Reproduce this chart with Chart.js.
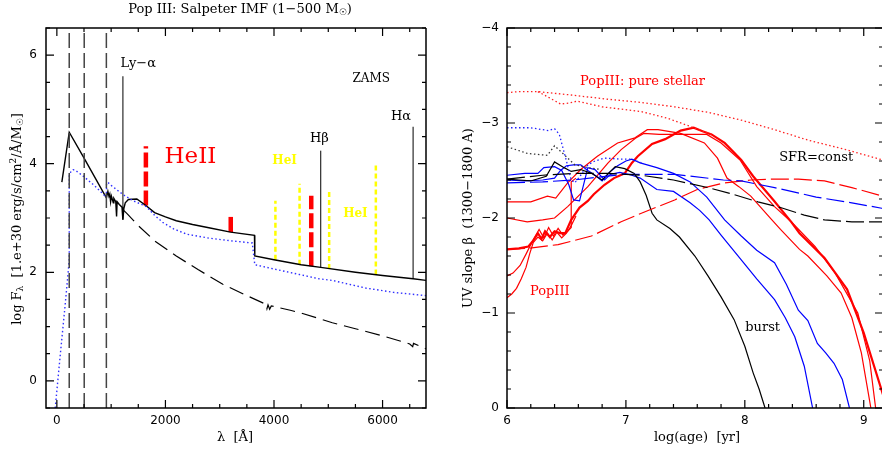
<!DOCTYPE html>
<html>
<head>
<meta charset="utf-8">
<script src="https://cdn.jsdelivr.net/npm/chart.js@4.4.1/dist/chart.umd.min.js"></script>
<style>
html, body { margin: 0; padding: 0; background: #fff; overflow: hidden; }
#wrap { position: relative; width: 882px; height: 451px; overflow: hidden; }
canvas { position: absolute; top: 0; }
</style>
</head>
<body>
<div id="wrap">
  <canvas id="chart-sed" width="441" height="451" style="left:0"></canvas>
  <canvas id="chart-beta" width="443" height="451" style="left:441px"></canvas>
</div>
<script>
// ---------- left panel: Pop III SED (ZAMS) ----------
const sedXTicks = [0, 2000, 4000, 6000];
const sedYTicks = [0, 2, 4, 6];

// total (stellar + nebular) spectrum
const zamsLambda = [92, 228, 504, 912, 940, 960, 975, 990, 1005, 1040, 1050, 1085, 1100, 1110, 1150, 1200, 1216, 1235, 1260, 1318, 1473, 1640, 1800, 2000, 2200, 2500, 2800, 3200, 3640, 3646, 4000, 4500, 4861, 5500, 6000, 6563, 6800];
const zamsFlux   = [3.66, 4.58, 4.10, 3.37, 3.49, 3.40, 3.44, 3.30, 3.40, 3.28, 3.36, 3.30, 3.03, 3.30, 3.25, 3.20, 2.97, 3.18, 3.28, 3.34, 3.35, 3.23, 3.10, 3.02, 2.95, 2.88, 2.82, 2.74, 2.68, 2.30, 2.23, 2.14, 2.09, 2.00, 1.94, 1.88, 1.85];

// pure stellar spectrum (blue dotted)
const stellarLambda = [-30, 60, 150, 213, 228, 228, 260, 300, 340, 500, 700, 912, 915, 935, 1000, 1222, 1400, 1650, 1800, 1950, 2150, 2400, 2800, 3200, 3600, 3646, 4000, 4466, 4830, 5075, 5688, 6200, 6800];
const stellarFlux   = [-0.5, 0.45, 1.37, 2.05, 2.25, 3.77, 3.86, 3.89, 3.88, 3.76, 3.59, 3.38, 3.62, 3.66, 3.60, 3.43, 3.32, 3.21, 3.05, 2.92, 2.80, 2.70, 2.63, 2.58, 2.54, 2.14, 2.06, 1.96, 1.88, 1.85, 1.71, 1.63, 1.57];

// older / comparison continuum (black long dashed)
const dashLambda = [1230, 1284, 1500, 1800, 2200, 2600, 3057, 3500, 3853, 3870, 3890, 3920, 3950, 4000, 4300, 4500, 5075, 5500, 6000, 6500, 6555, 6570, 6800];
const dashFlux   = [3.14, 3.09, 2.86, 2.58, 2.30, 2.05, 1.78, 1.57, 1.41, 1.33, 1.40, 1.32, 1.38, 1.37, 1.30, 1.25, 1.07, 0.96, 0.83, 0.68, 0.63, 0.69, 0.59];

// ionisation edges (HeII, HeI, HI)
const edgeLambda = [228, 504, 912];

// emission lines
const lineNames  = ['Lya', 'HeII1640', 'HeII3203', 'HeII4686', 'Hb', 'Ha', 'HeI4026', 'HeI4471', 'HeI5016', 'HeI5876'];
const lineLambda = [1216, 1640, 3203, 4686, 4861, 6563, 4026, 4471, 5016, 5876];
const lineBase   = [2.97, 3.23, 2.74, 2.11, 2.09, 1.88, 2.23, 2.14, 2.06, 1.96];
const lineTop    = [5.61, 4.32, 3.02, 3.41, 4.24, 4.68, 3.32, 3.63, 3.50, 4.01];
const lineKind   = ['H', 'HeII', 'HeII', 'HeII', 'Hb', 'H', 'HeI', 'HeI', 'HeI', 'HeI'];

// ---------- right panel: UV slope vs age ----------
const ageXTicks = [6, 7, 8, 9];
const betaYTicks = [-4, -3, -2, -1, 0];

const redDotConstAge  = [6.0, 6.1, 6.26, 6.5, 6.85, 7.1, 7.41, 7.7, 7.97, 8.25, 8.53, 8.85, 9.162];
const redDotConstBeta = [-3.32, -3.33, -3.33, -3.30, -3.25, -3.22, -3.17, -3.11, -3.03, -2.93, -2.82, -2.72, -2.61];
const redDotBurstAge  = [6.26, 6.35, 6.45, 6.52, 6.59, 6.8, 7.13, 7.35, 7.55, 7.72];
const redDotBurstBeta = [-3.33, -3.27, -3.20, -3.21, -3.23, -3.17, -3.12, -3.05, -2.96, -2.88];

const blueDotAge  = [6.0, 6.2, 6.35, 6.40, 6.44, 6.50, 6.54, 6.57, 6.62, 6.68, 6.74, 6.82, 6.95, 7.05, 7.13];
const blueDotBeta = [-2.95, -2.95, -2.92, -2.94, -2.88, -2.60, -2.40, -2.37, -2.45, -2.56, -2.60, -2.63, -2.62, -2.62, -2.58];

const blackDotAge  = [6.0, 6.17, 6.34, 6.40, 6.47, 6.57, 6.68, 6.79];
const blackDotBeta = [-2.75, -2.68, -2.66, -2.76, -2.68, -2.56, -2.53, -2.51];

const blackBurstAge  = [6.0, 6.1, 6.2, 6.33, 6.40, 6.48, 6.54, 6.62, 6.71, 6.80, 6.91, 6.99, 7.07, 7.12, 7.17, 7.22, 7.26, 7.37, 7.45, 7.58, 7.69, 7.80, 7.91, 8.0, 8.07, 8.12, 8.17];
const blackBurstBeta = [-2.41, -2.40, -2.39, -2.44, -2.59, -2.53, -2.49, -2.51, -2.47, -2.40, -2.54, -2.52, -2.47, -2.38, -2.24, -2.05, -1.98, -1.89, -1.80, -1.60, -1.39, -1.17, -0.93, -0.65, -0.37, -0.20, 0];

const blueBurstAAge  = [6.0, 6.15, 6.26, 6.31, 6.40, 6.46, 6.52, 6.56, 6.61, 6.68, 6.74, 6.82, 6.87, 6.95, 7.05, 7.12, 7.26, 7.40, 7.54, 7.62, 7.70, 7.80, 7.97, 8.10, 8.25, 8.34, 8.42, 8.50, 8.57];
const blueBurstABeta = [-2.45, -2.47, -2.47, -2.53, -2.54, -2.50, -2.35, -2.19, -2.18, -2.53, -2.51, -2.40, -2.46, -2.48, -2.45, -2.42, -2.30, -2.28, -2.16, -2.08, -1.98, -1.82, -1.56, -1.36, -1.14, -0.95, -0.75, -0.44, 0];
const blueBurstBAge  = [6.0, 6.15, 6.30, 6.40, 6.45, 6.50, 6.56, 6.62, 6.68, 6.74, 6.80, 6.86, 6.93, 7.00, 7.05, 7.12, 7.26, 7.40, 7.54, 7.68, 7.83, 7.97, 8.10, 8.25, 8.35, 8.45, 8.53, 8.61, 8.68, 8.75, 8.82, 8.88];
const blueBurstBBeta = [-2.40, -2.39, -2.40, -2.42, -2.50, -2.55, -2.56, -2.56, -2.50, -2.45, -2.39, -2.48, -2.55, -2.60, -2.62, -2.58, -2.53, -2.47, -2.38, -2.22, -1.98, -1.81, -1.66, -1.53, -1.30, -1.03, -0.92, -0.68, -0.58, -0.47, -0.30, 0];

const redBurstAAge  = [6.0, 6.2, 6.34, 6.41, 6.51, 6.62, 6.76, 6.93, 7.07, 7.18, 7.27, 7.46, 7.66, 7.77, 7.85, 7.95, 8.05, 8.22, 8.30, 8.46, 8.53, 8.69, 8.81, 8.90, 8.98, 9.06];
const redBurstABeta = [-2.17, -2.17, -2.23, -2.21, -2.37, -2.51, -2.65, -2.79, -2.84, -2.93, -2.93, -2.89, -2.79, -2.63, -2.42, -2.33, -2.23, -1.99, -1.88, -1.67, -1.60, -1.39, -1.21, -0.95, -0.58, 0];
const redBurstBAge  = [6.0, 6.17, 6.30, 6.40, 6.51, 6.68, 6.85, 6.96, 7.08, 7.15, 7.28, 7.41, 7.55, 7.68, 7.80, 7.96, 8.10, 8.25, 8.39, 8.59, 8.76, 8.95, 9.05, 9.10];
const redBurstBBeta = [-2.0, -1.96, -1.98, -2.0, -2.12, -2.33, -2.58, -2.72, -2.84, -2.89, -2.88, -2.88, -2.88, -2.88, -2.79, -2.61, -2.33, -2.12, -1.96, -1.70, -1.42, -1.0, -0.5, 0];
const redBurstCAge  = [6.0, 6.1, 6.18, 6.22, 6.26, 6.29, 6.32, 6.36, 6.40, 6.45, 6.49, 6.54, 6.61, 6.68, 6.73, 6.82, 6.90, 6.99, 7.05, 7.10, 7.22, 7.33, 7.46, 7.57, 7.65, 7.72, 7.83, 7.97, 8.07, 8.24, 8.39, 8.46, 8.67, 8.86, 9.0, 9.162];
const redBurstCBeta = [-1.67, -1.68, -1.70, -1.76, -1.84, -1.78, -1.86, -1.80, -1.86, -1.84, -1.84, -1.98, -2.11, -2.18, -2.25, -2.35, -2.42, -2.47, -2.58, -2.65, -2.78, -2.83, -2.92, -2.95, -2.91, -2.88, -2.79, -2.61, -2.44, -2.19, -1.96, -1.84, -1.58, -1.25, -0.79, -0.14];
const redBurstDAge  = [6.0, 6.05, 6.11, 6.16, 6.22, 6.27, 6.31, 6.35, 6.39, 6.43, 6.47, 6.51, 6.54, 6.54, 6.58];
const redBurstDBeta = [-1.39, -1.42, -1.50, -1.62, -1.77, -1.88, -1.79, -1.90, -1.81, -1.89, -1.82, -1.86, -1.90, -2.38, -2.42];
const redBurstEAge  = [6.0, 6.04, 6.08, 6.12, 6.16, 6.19, 6.22, 6.26, 6.30, 6.34, 6.38, 6.42, 6.46, 6.50, 6.54, 6.58];
const redBurstEBeta = [-1.16, -1.20, -1.26, -1.36, -1.48, -1.62, -1.74, -1.80, -1.76, -1.84, -1.77, -1.85, -1.79, -1.84, -1.92, -2.02];

const blackConstAge  = [6.0, 6.3, 6.57, 6.85, 7.13, 7.4, 7.69, 7.9, 8.11, 8.30, 8.5, 8.67, 8.9, 9.162];
const blackConstBeta = [-2.41, -2.45, -2.47, -2.47, -2.45, -2.40, -2.32, -2.25, -2.17, -2.11, -2.03, -1.98, -1.96, -1.96];
const blueConstAge   = [6.0, 6.3, 6.56, 6.98, 7.41, 7.82, 7.97, 8.25, 8.6, 8.9, 9.162];
const blueConstBeta  = [-2.37, -2.38, -2.40, -2.46, -2.46, -2.40, -2.39, -2.32, -2.22, -2.16, -2.10];
const redConstAge    = [6.0, 6.17, 6.43, 6.71, 6.96, 7.13, 7.41, 7.6, 7.83, 8.05, 8.25, 8.45, 8.67, 8.9, 9.162];
const redConstBeta   = [-1.67, -1.68, -1.72, -1.81, -1.96, -2.05, -2.19, -2.30, -2.37, -2.40, -2.41, -2.41, -2.39, -2.32, -2.23];

// ---------- helpers ----------
const SERIF = "'DejaVu Serif', serif";
const SANS = "'DejaVu Sans', sans-serif";

function series(xs, ys, color, width, dash) {
    return {
        data: xs.map((x, i) => ({ x: x, y: ys[i] })),
        borderColor: color,
        borderWidth: width,
        borderDash: dash || [],
        pointRadius: 0,
        fill: false,
        tension: 0
    };
}

function minusLabel(v) {
    return v < 0 ? '\u2212' + Math.abs(v) : String(v);
}

// draw text made of pieces with different size / vertical shift
function drawRich(ctx, parts, cx, cy, angle, family, size, color) {
    ctx.save();
    ctx.translate(cx, cy);
    ctx.rotate(angle);
    ctx.fillStyle = color;
    ctx.textBaseline = 'middle';
    ctx.textAlign = 'left';
    let total = 0;
    parts.forEach(p => {
        ctx.font = Math.round(size * (p[1] || 1)) + 'px ' + family;
        total += ctx.measureText(p[0]).width;
    });
    let x = -total / 2;
    parts.forEach(p => {
        ctx.font = Math.round(size * (p[1] || 1)) + 'px ' + family;
        ctx.fillText(p[0], x, p[2] || 0);
        x += ctx.measureText(p[0]).width;
    });
    ctx.restore();
}

// frame plus inward major/minor ticks on all four sides
const frameTicks = {
    id: 'frameTicks',
    afterDraw(chart, args, opts) {
        const { ctx, chartArea: a } = chart;
        const xs = chart.scales.x, ys = chart.scales.y;
        ctx.save();
        ctx.strokeStyle = '#000';
        ctx.lineWidth = 1.5;
        ctx.beginPath();
        ctx.moveTo(a.right, a.top); ctx.lineTo(a.left, a.top);
        ctx.lineTo(a.left, a.bottom); ctx.lineTo(a.right, a.bottom);
        if (opts.rightEdge !== false) ctx.lineTo(a.right, a.top);
        ctx.stroke();
        ctx.lineWidth = 1.2;
        ctx.beginPath();
        const xStep = opts.xMinor, yStep = opts.yMinor;
        for (let v = Math.ceil(xs.min / xStep - 1e-6) * xStep; v <= xs.max + 1e-6; v += xStep) {
            const major = Math.abs(v / opts.xMajor - Math.round(v / opts.xMajor)) < 1e-6;
            const len = major ? 8 : 4;
            const px = xs.getPixelForValue(v);
            ctx.moveTo(px, a.bottom); ctx.lineTo(px, a.bottom - len);
            ctx.moveTo(px, a.top); ctx.lineTo(px, a.top + len);
        }
        for (let v = Math.ceil(ys.min / yStep - 1e-6) * yStep; v <= ys.max + 1e-6; v += yStep) {
            const major = Math.abs(v / opts.yMajor - Math.round(v / opts.yMajor)) < 1e-6;
            const len = major ? 8 : 4;
            const py = ys.getPixelForValue(v);
            ctx.moveTo(a.left, py); ctx.lineTo(a.left + len, py);
            ctx.moveTo(a.right, py); ctx.lineTo(a.right - len, py);
        }
        ctx.stroke();
        ctx.restore();
    }
};

// free text labels placed in data coordinates, plus axis titles
const textLabels = {
    id: 'textLabels',
    afterDatasetsDraw(chart, args, opts) {
        const { ctx } = chart;
        const xs = chart.scales.x, ys = chart.scales.y;
        ctx.save();
        ctx.textAlign = 'center';
        ctx.textBaseline = 'middle';
        (opts.items || []).forEach(it => {
            ctx.font = it.font;
            ctx.fillStyle = it.color;
            ctx.fillText(it.text, xs.getPixelForValue(it.x), ys.getPixelForValue(it.y));
        });
        ctx.restore();
        (opts.rich || []).forEach(r => drawRich(ctx, r.parts, r.cx, r.cy, r.angle || 0, r.family, r.size, r.color || '#000'));
    }
};

document.addEventListener('DOMContentLoaded', () => {
    // ----- left panel datasets -----
    const sedSets = [];
    edgeLambda.forEach(l => {
        sedSets.push(series([l, l], [-0.5, 6.5], '#444', 1.5, [15, 5]));
    });
    sedSets.push(series(dashLambda, dashFlux, '#000', 1.2, [15, 7]));
    sedSets.push(series(stellarLambda, stellarFlux, '#3030ff', 1.4, [1.5, 2.5]));
    sedSets.push(series(zamsLambda, zamsFlux, '#000', 1.4));
    lineNames.forEach((n, i) => {
        const k = lineKind[i];
        let color = '#555', width = 1.5, dash = [];
        if (k === 'HeII') { color = '#ff0000'; width = 4.5; dash = (lineTop[i] - lineBase[i] > 0.6) ? [15, 4] : []; }
        if (k === 'HeI') { color = '#ffff00'; width = 2.5; dash = [5, 3]; }
        if (k === 'Hb') { color = '#000'; width = 1; }
        sedSets.push(series([lineLambda[i], lineLambda[i]], [lineBase[i], lineTop[i]], color, width, dash));
    });

    new Chart(document.getElementById('chart-sed'), {
        type: 'line',
        data: { datasets: sedSets },
        options: {
            responsive: false,
            animation: false,
            layout: { padding: { top: 28, right: 15, left: 0, bottom: 0 } },
            plugins: {
                legend: { display: false },
                tooltip: { enabled: false },
                frameTicks: { xMinor: 500, xMajor: 2000, yMinor: 0.5, yMajor: 2 },
                textLabels: {
                    items: [
                        { text: 'Ly\u2212\u03b1', x: 1500, y: 5.85, color: '#000', font: '13px ' + SERIF },
                        { text: 'ZAMS', x: 5790, y: 5.56, color: '#000', font: '12px ' + SERIF },
                        { text: 'H\u03b1', x: 6340, y: 4.86, color: '#000', font: '13px ' + SERIF },
                        { text: 'H\u03b2', x: 4835, y: 4.47, color: '#000', font: '13px ' + SERIF },
                        { text: 'HeII', x: 2460, y: 4.12, color: '#ff0000', font: '23px ' + SERIF },
                        { text: 'HeI', x: 4195, y: 4.05, color: '#ffff00', font: 'bold 12px ' + SERIF },
                        { text: 'HeI', x: 5500, y: 3.07, color: '#ffff00', font: 'bold 12px ' + SERIF }
                    ],
                    rich: [
                        { parts: [['Pop III: Salpeter IMF (1\u2212500 M'], ['\u2609', 0.7, 3], [')']], cx: 240, cy: 10, family: SERIF, size: 13 },
                        { parts: [['\u03bb  [\u00c5]']], cx: 235, cy: 438, family: SERIF, size: 13 },
                        { parts: [['log F'], ['\u03bb', 0.7, 3], ['  [1.e+30 erg/s/cm'], ['2', 0.7, -4], ['/\u00c5/M'], ['\u2609', 0.7, 3], [']']], cx: 18, cy: 219, angle: -Math.PI / 2, family: SERIF, size: 13 }
                    ]
                }
            },
            scales: {
                x: {
                    type: 'linear', min: -200, max: 6800,
                    afterBuildTicks: s => { s.ticks = sedXTicks.map(v => ({ value: v })); },
                    afterFit: s => { s.height = 43; },
                    grid: { display: false, drawTicks: false },
                    border: { display: false },
                    ticks: { font: { family: SANS, size: 12 }, color: '#000', padding: 6, maxRotation: 0, autoSkip: false, callback: v => String(v) }
                },
                y: {
                    type: 'linear', min: -0.5, max: 6.5,
                    afterBuildTicks: s => { s.ticks = sedYTicks.map(v => ({ value: v })); },
                    afterFit: s => { s.width = 46; },
                    grid: { display: false, drawTicks: false },
                    border: { display: false },
                    ticks: { font: { family: SANS, size: 12 }, color: '#000', padding: 9, autoSkip: false, callback: v => String(v) }
                }
            }
        },
        plugins: [frameTicks, textLabels]
    });

    // ----- right panel datasets -----
    const betaSets = [
        series(redDotConstAge, redDotConstBeta, '#ff2020', 1.3, [1.5, 2.5]),
        series(redDotBurstAge, redDotBurstBeta, '#ff2020', 1.3, [1.5, 2.5]),
        series(blueDotAge, blueDotBeta, '#2020ff', 1.3, [1.5, 2.5]),
        series(blackDotAge, blackDotBeta, '#333', 1.3, [1.5, 2.5]),
        series(blackConstAge, blackConstBeta, '#000', 1.2, [18, 5]),
        series(blueConstAge, blueConstBeta, '#0000ff', 1.2, [18, 5]),
        series(redConstAge, redConstBeta, '#ff0000', 1.2, [18, 5]),
        series(blackBurstAge, blackBurstBeta, '#000', 1.2),
        series(blueBurstAAge, blueBurstABeta, '#0000ff', 1.2),
        series(blueBurstBAge, blueBurstBBeta, '#0000ff', 1.2),
        series(redBurstAAge, redBurstABeta, '#ff0000', 1.2),
        series(redBurstBAge, redBurstBBeta, '#ff0000', 1.2),
        series(redBurstDAge, redBurstDBeta, '#ff0000', 1.2),
        series(redBurstEAge, redBurstEBeta, '#ff0000', 1.2),
        series(redBurstCAge, redBurstCBeta, '#ff0000', 2.2)
    ];

    new Chart(document.getElementById('chart-beta'), {
        type: 'line',
        data: { datasets: betaSets },
        options: {
            responsive: false,
            animation: false,
            layout: { padding: { top: 28, right: 1, left: 0, bottom: 0 } },
            plugins: {
                legend: { display: false },
                tooltip: { enabled: false },
                frameTicks: { xMinor: 0.2, xMajor: 1, yMinor: 0.2, yMajor: 1, rightEdge: false },
                textLabels: {
                    items: [
                        { text: 'PopIII: pure stellar', x: 7.14, y: -3.44, color: '#ff0000', font: '13px ' + SERIF },
                        { text: 'SFR=const', x: 8.60, y: -2.64, color: '#000', font: '13px ' + SERIF },
                        { text: 'PopIII', x: 6.36, y: -1.23, color: '#ff0000', font: '13px ' + SERIF },
                        { text: 'burst', x: 8.15, y: -0.85, color: '#000', font: '13px ' + SERIF }
                    ],
                    rich: [
                        { parts: [['log(age)  [yr]']], cx: 256, cy: 438, family: SERIF, size: 13 },
                        { parts: [['UV slope \u03b2  (1300\u22121800 A)']], cx: 28, cy: 218, angle: -Math.PI / 2, family: SERIF, size: 13 }
                    ]
                }
            },
            scales: {
                x: {
                    type: 'linear', min: 6, max: 9.162,
                    afterBuildTicks: s => { s.ticks = ageXTicks.map(v => ({ value: v })); },
                    afterFit: s => { s.height = 43; },
                    grid: { display: false, drawTicks: false },
                    border: { display: false },
                    ticks: { font: { family: SANS, size: 12 }, color: '#000', padding: 6, maxRotation: 0, autoSkip: false, callback: v => String(v) }
                },
                y: {
                    type: 'linear', min: -4, max: 0, reverse: true,
                    afterBuildTicks: s => { s.ticks = betaYTicks.map(v => ({ value: v })); },
                    afterFit: s => { s.width = 66; },
                    grid: { display: false, drawTicks: false },
                    border: { display: false },
                    ticks: { font: { family: SANS, size: 12 }, color: '#000', padding: 8, autoSkip: false, callback: v => minusLabel(v) }
                }
            }
        },
        plugins: [frameTicks, textLabels]
    });
});
</script>
</body>
</html>
